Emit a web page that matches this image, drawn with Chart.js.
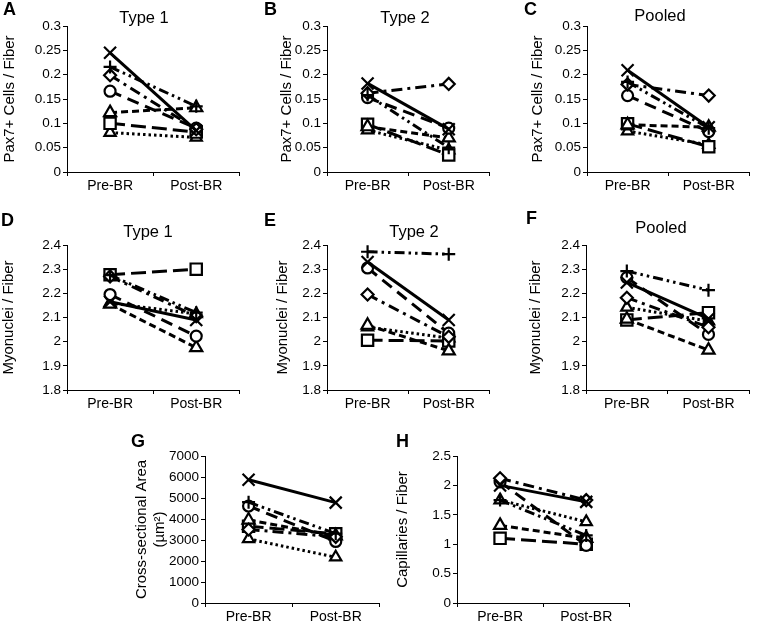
<!DOCTYPE html>
<html>
<head>
<meta charset="utf-8">
<script src="https://cdn.jsdelivr.net/npm/chart.js@4"></script>
<style>
body { margin: 0; background: #fff; }
#page { position: relative; width: 760px; height: 624px; overflow: hidden; background: #fff; font-family: "Liberation Sans", Arial, sans-serif; color: #000; }
#page canvas { position: absolute; }
.letter { position: absolute; font-weight: bold; font-size: 18px; line-height: 18px; }
.title { position: absolute; font-size: 16.5px; line-height: 16px; width: 120px; text-align: center; }
</style>
</head>
<body>
<div id="page">
  <canvas id="chartA" width="250" height="200" style="left:0px;top:0px"></canvas>
  <canvas id="chartB" width="250" height="200" style="left:250px;top:0px"></canvas>
  <canvas id="chartC" width="260" height="200" style="left:500px;top:0px"></canvas>
  <canvas id="chartD" width="250" height="215" style="left:0px;top:200px"></canvas>
  <canvas id="chartE" width="250" height="215" style="left:250px;top:200px"></canvas>
  <canvas id="chartF" width="260" height="215" style="left:500px;top:200px"></canvas>
  <canvas id="chartG" width="260" height="214" style="left:130px;top:410px"></canvas>
  <canvas id="chartH" width="260" height="214" style="left:380px;top:410px"></canvas>

  <div class="letter" style="left:3px;top:0px">A</div>
  <div class="letter" style="left:264px;top:0px">B</div>
  <div class="letter" style="left:524px;top:0px">C</div>
  <div class="letter" style="left:1px;top:211px">D</div>
  <div class="letter" style="left:264px;top:211px">E</div>
  <div class="letter" style="left:526px;top:209px">F</div>
  <div class="letter" style="left:131px;top:432px">G</div>
  <div class="letter" style="left:396px;top:432px">H</div>

  <div class="title" style="left:84px;top:9px">Type 1</div>
  <div class="title" style="left:345px;top:9px">Type 2</div>
  <div class="title" style="left:600px;top:7px">Pooled</div>
  <div class="title" style="left:88px;top:223px">Type 1</div>
  <div class="title" style="left:354px;top:223px">Type 2</div>
  <div class="title" style="left:601px;top:219px">Pooled</div>
</div>
<script>
let labels = ['Pre-BR', 'Post-BR']
let subjects = ['S1', 'S2', 'S3', 'S4', 'S5', 'S6', 'S7']

// [pre, post] per subject, same subject order in every panel
let pax7Type1 = [[0.245, 0.085], [0.216, 0.135], [0.199, 0.088], [0.166, 0.09], [0.122, 0.132], [0.100, 0.082], [0.081, 0.071]]
let pax7Type2 = [[0.182, 0.088], [0.158, 0.05], [0.162, 0.181], [0.153, 0.09], [0.093, 0.07], [0.098, 0.035], [0.086, 0.045]]
let pax7Pooled = [[0.209, 0.092], [0.185, 0.09], [0.18, 0.157], [0.157, 0.083], [0.097, 0.092], [0.099, 0.052], [0.084, 0.056]]
let myoType1 = [[2.165, 2.09], [2.275, 2.12], [2.27, 2.105], [2.195, 2.023], [2.155, 1.975], [2.277, 2.30], [2.16, 2.115]]
let myoType2 = [[2.33, 2.09], [2.372, 2.362], [2.195, 2.02], [2.305, 2.035], [2.068, 1.962], [2.006, 2.003], [2.06, 2.015]]
let myoPooled = [[2.245, 2.095], [2.292, 2.213], [2.182, 2.06], [2.265, 2.03], [2.093, 1.965], [2.09, 2.12], [2.142, 2.085]]
let csaValues = [[5870, 4780], [4800, 3300], [3500, 3150], [4620, 2930], [3950, 3200], [3650, 3300], [3050, 2180]]
let capValues = [[2.0, 1.72], [1.75, 1.15], [2.12, 1.75], [2.06, 0.98], [1.32, 1.1], [1.1, 1.0], [1.75, 1.38]]

let pax7Ticks = [0, 0.3, 0.05]
let myoTicks = [1.8, 2.4, 0.1]
let csaTicks = [0, 7000, 1000]
let capTicks = [0, 2.5, 0.5]

// marker and line style for each subject
let markers = ['crossRot', 'cross', 'rectRot', 'circle', 'triangle', 'rect', 'triangle']
let markerSize = [8.5, 6.5, 6, 5.5, 7, 8, 6.5]
let dashes = [[], [10, 4, 2.5, 4, 2.5, 4], [11, 5, 3, 5], [12, 7], [7, 4], [15, 6], [2.5, 3]]

let fontFamily = '"Liberation Sans", Arial, sans-serif'
Chart.defaults.font.family = fontFamily
Chart.defaults.color = '#000'

function makePanel(id, values, yTitle, yTicks, box) {
    let datasets = values.map(function (pair, i) {
        return {
            label: subjects[i],
            data: pair,
            borderColor: '#000',
            backgroundColor: '#fff',
            borderWidth: 3,
            borderDash: dashes[i],
            pointStyle: markers[i],
            pointRadius: markerSize[i],
            pointBorderWidth: 2.2,
            pointBorderColor: '#000',
            pointBackgroundColor: '#fff',
            tension: 0,
            clip: false
        }
    })

    let ctx = document.getElementById(id).getContext('2d')
    return new Chart(ctx, {
        type: 'line',
        data: { labels: labels, datasets: datasets },
        options: {
            responsive: false,
            animation: false,
            devicePixelRatio: 1,
            layout: { padding: { left: box.padL, top: box.padT, right: box.padR, bottom: 0 } },
            plugins: { legend: { display: false }, tooltip: { enabled: false } },
            scales: {
                x: {
                    type: 'category',
                    offset: true,
                    grid: { offset: true, drawOnChartArea: false, color: '#000', tickLength: 4 },
                    border: { color: '#000', width: 1 },
                    ticks: { color: '#000', font: { size: 14 }, padding: 2, maxRotation: 0 },
                    afterFit: function (s) { s.height = box.xH }
                },
                y: {
                    min: yTicks[0],
                    max: yTicks[1],
                    grid: { drawOnChartArea: false, color: '#000', tickLength: 4 },
                    border: { color: '#000', width: 1 },
                    ticks: {
                        stepSize: yTicks[2],
                        color: '#000',
                        font: { size: 13.5 },
                        padding: 2,
                        callback: function (v) { return String(parseFloat(v.toFixed(3))) }
                    },
                    title: { display: true, text: yTitle, color: '#000', font: { size: 15 }, padding: 0 },
                    afterFit: function (s) { s.width = box.yW }
                }
            }
        }
    })
}

makePanel('chartA', pax7Type1, 'Pax7+ Cells / Fiber', pax7Ticks, { padL: 1, padT: 26, padR: 10, yW: 66, xH: 28 })
makePanel('chartB', pax7Type2, 'Pax7+ Cells / Fiber', pax7Ticks, { padL: 28, padT: 26, padR: 2, yW: 49, xH: 28 })
makePanel('chartC', pax7Pooled, 'Pax7+ Cells / Fiber', pax7Ticks, { padL: 29, padT: 26, padR: 5, yW: 58, xH: 28 })
makePanel('chartD', myoType1, 'Myonuclei / Fiber', myoTicks, { padL: 0, padT: 45, padR: 10, yW: 67, xH: 25 })
makePanel('chartE', myoType2, 'Myonuclei / Fiber', myoTicks, { padL: 24, padT: 45, padR: 2, yW: 53, xH: 25 })
makePanel('chartF', myoPooled, 'Myonuclei / Fiber', myoTicks, { padL: 27, padT: 45, padR: 3, yW: 59, xH: 25 })
makePanel('chartG', csaValues, ['Cross-sectional Area', '(\u00b5m\u00b2)'], csaTicks, { padL: 3, padT: 46, padR: 10, yW: 72, xH: 21 })
makePanel('chartH', capValues, 'Capillaries / Fiber', capTicks, { padL: 14, padT: 46, padR: 8, yW: 63, xH: 21 })
</script>
</body>
</html>
